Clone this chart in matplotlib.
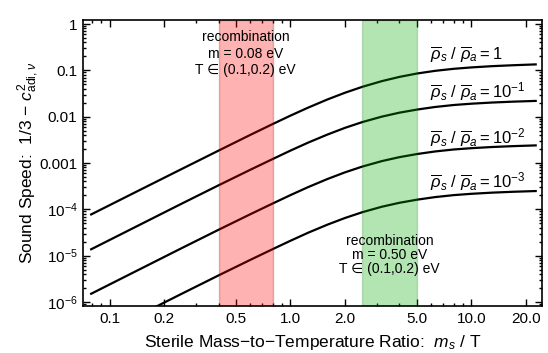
"""
Sound speed deviation 1/3 - c^2 versus sterile mass-to-temperature ratio.
"""

import numpy as np
import matplotlib
matplotlib.use('Agg')
import matplotlib.pyplot as plt
from matplotlib.ticker import LogLocator, NullFormatter

plt.rcParams['font.family'] = ['Liberation Sans', 'DejaVu Sans']
plt.rcParams['mathtext.fontset'] = 'custom'
plt.rcParams['mathtext.rm'] = 'Liberation Sans'
plt.rcParams['mathtext.it'] = 'Liberation Sans:italic'
plt.rcParams['mathtext.bf'] = 'Liberation Sans:bold'

# mass-to-temperature ratio m_s / T
ratio = [0.079, 0.15, 0.25, 0.4, 0.6, 0.8, 1.0, 1.25, 1.6, 2.0,
         2.5, 3.2, 4.0, 5.0, 6.3, 8.0, 10.0, 13.0, 17.0, 22.7]

# 1/3 - c^2 for each density ratio rho_s / rho_a
speed_1 = [7.76e-5, 2.73e-4, 7.41e-4, 1.85e-3, 4.05e-3, 6.98e-3, 0.01054, 0.01563, 0.0235, 0.03281,
           0.04416, 0.05848, 0.07211, 0.08531, 0.0975, 0.1079, 0.1156, 0.123, 0.1288, 0.1343]
speed_1e1 = [1.374e-5, 4.85e-5, 1.324e-4, 3.30e-4, 7.16e-4, 1.227e-3, 1.854e-3, 2.748e-3, 4.11e-3, 5.73e-3,
             7.66e-3, 0.01002, 0.01219, 0.01422, 0.01618, 0.01786, 0.01905, 0.02018, 0.02109, 0.02188]
speed_1e2 = [1.507e-6, 5.32e-6, 1.452e-5, 3.62e-5, 7.85e-5, 1.346e-4, 2.03e-4, 3.01e-4, 4.51e-4, 6.28e-4,
             8.39e-4, 1.099e-3, 1.337e-3, 1.56e-3, 1.774e-3, 1.959e-3, 2.089e-3, 2.213e-3, 2.312e-3, 2.399e-3]
speed_1e3 = [1.56e-7, 5.51e-7, 1.503e-6, 3.75e-6, 8.13e-6, 1.393e-5, 2.10e-5, 3.12e-5, 4.67e-5, 6.50e-5,
             8.69e-5, 1.138e-4, 1.384e-4, 1.614e-4, 1.837e-4, 2.028e-4, 2.163e-4, 2.291e-4, 2.393e-4, 2.483e-4]

curve_labels = [r'$\overline{\rho}_s\ /\ \overline{\rho}_a = 1$',
                r'$\overline{\rho}_s\ /\ \overline{\rho}_a = 10^{-1}$',
                r'$\overline{\rho}_s\ /\ \overline{\rho}_a = 10^{-2}$',
                r'$\overline{\rho}_s\ /\ \overline{\rho}_a = 10^{-3}$']
label_y = [0.223, 0.0355, 3.5e-3, 3.9e-4]

# recombination bands: m / T for T in (0.1, 0.2) eV
red_band = (0.4, 0.8)
green_band = (2.5, 5.0)

xticks = [0.1, 0.2, 0.5, 1, 2, 5, 10, 20]
xticklabels = ['0.1', '0.2', '0.5', '1.0', '2.0', '5.0', '10.0', '20.0']
yticks = [1, 0.1, 0.01, 0.001, 1e-4, 1e-5, 1e-6]
yticklabels = ['1', '0.1', '0.01', '0.001', r'$10^{-4}$', r'$10^{-5}$', r'$10^{-6}$']

fig = plt.figure(figsize=(5.48, 3.53), dpi=100)
ax = fig.add_axes([83/548, 1 - 306/353, (542 - 83)/548, (306 - 20)/353])

for speed in [speed_1, speed_1e1, speed_1e2, speed_1e3]:
    ax.plot(ratio, speed, color='k', lw=1.6, zorder=1)

# bands drawn over the curves, like the original
ax.axvspan(*red_band, facecolor=(1, 0, 0, 0.3), edgecolor=(0.6, 0, 0, 0.25), lw=1, zorder=2)
ax.axvspan(*green_band, facecolor=(0, 0.67, 0, 0.3), edgecolor=(0, 0.4, 0, 0.2), lw=1, zorder=2)

ax.set_xscale('log')
ax.set_yscale('log')
ax.set_xlim(0.0712, 24.6)
ax.set_ylim(8.2e-7, 1.22)

for lab, yv in zip(curve_labels, label_y):
    ax.text(5.9, yv, lab, fontsize=12, ha='left', va='center', zorder=3)

ax.text(np.sqrt(red_band[0]*red_band[1]), 0.229, 'recombination\nm = 0.08 eV\nT ∈ (0.1,0.2) eV',
        fontsize=10, ha='center', va='center', linespacing=1.2, zorder=3)
ax.text(np.sqrt(green_band[0]*green_band[1]), 1.02e-5, 'recombination\nm = 0.50 eV\nT ∈ (0.1,0.2) eV',
        fontsize=10, ha='center', va='center', linespacing=1.0, zorder=3)

ax.set_xticks(xticks, xticklabels)
ax.set_yticks(yticks, yticklabels)
ax.xaxis.set_minor_locator(LogLocator(base=10, subs=np.arange(2, 10)))
ax.yaxis.set_minor_locator(LogLocator(base=10, subs=np.arange(2, 10), numticks=20))
ax.xaxis.set_minor_formatter(NullFormatter())
ax.yaxis.set_minor_formatter(NullFormatter())
ax.tick_params(which='both', direction='in', top=True, right=True, labelsize=11, width=1)
ax.tick_params(which='major', length=5, pad=4)
ax.tick_params(which='minor', length=2.5)
for sp in ax.spines.values():
    sp.set_linewidth(1.2)

ax.set_xlabel(r'Sterile Mass$-$to$-$Temperature Ratio:  $m_s$ / T', fontsize=12.5)
ax.set_ylabel(r'Sound Speed:  1/3 $-$ $c^2_{\mathrm{adi},\nu}$', fontsize=12.5)
ax.xaxis.set_label_coords(0.5, -0.094)
ax.yaxis.set_label_coords(-0.0915, 0.5)

fig.savefig('out.png', dpi=100)
